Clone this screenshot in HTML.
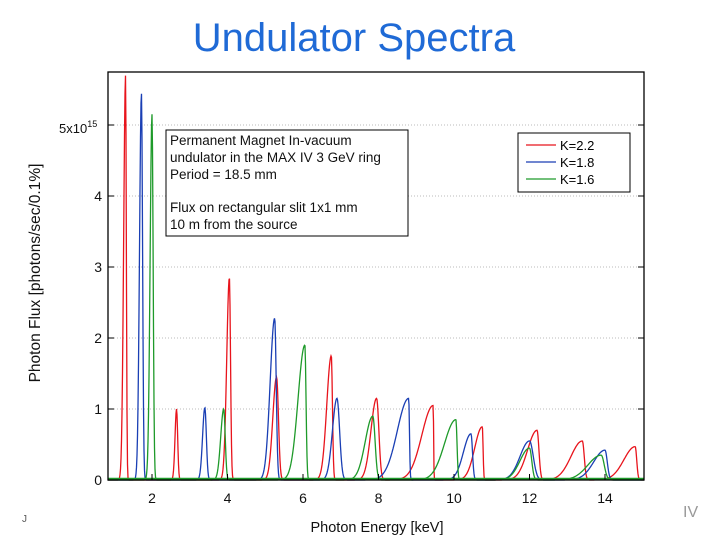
<!DOCTYPE html>
<html><head><meta charset="utf-8"><style>
body{margin:0;background:#fff;width:720px;height:540px;overflow:hidden;font-family:"Liberation Sans",sans-serif}
</style></head><body>
<svg width="720" height="540" xmlns="http://www.w3.org/2000/svg">
<text x="354" y="51" text-anchor="middle" font-size="40" fill="#1f6ad6" font-family="Liberation Sans, sans-serif">Undulator Spectra</text>
<g id="grid"></g>
<g id="series"></g>
<g id="axes"></g>
<text transform="translate(40,273) rotate(-90)" text-anchor="middle" font-size="15.5" fill="#111">Photon Flux [photons/sec/0.1%]</text>
<text x="377" y="532" text-anchor="middle" font-size="14.5" fill="#111">Photon Energy [keV]</text>
<text x="59" y="133" font-size="13" fill="#111">5x10<tspan dy="-6" font-size="9">15</tspan></text>
<g>
<rect x="166" y="130" width="242" height="106" fill="#fff" stroke="#000" stroke-width="1"/>
<text font-size="13.5" fill="#111"><tspan x="170" y="145">Permanent Magnet In-vacuum</tspan><tspan x="170" y="162">undulator in the MAX IV 3 GeV ring</tspan><tspan x="170" y="179">Period = 18.5 mm</tspan><tspan x="170" y="212">Flux on rectangular slit 1x1 mm</tspan><tspan x="170" y="229">10 m from the source</tspan></text>
</g>
<g>
<rect x="518" y="133" width="112" height="59" fill="#fff" stroke="#000"/>
<g><line x1="526" x2="556" y1="145" y2="145" stroke="#e8141c" stroke-width="1.3"/><text x="560" y="150" font-size="13">K=2.2</text></g>
<g><line x1="526" x2="556" y1="162" y2="162" stroke="#1a3fb4" stroke-width="1.3"/><text x="560" y="167" font-size="13">K=1.8</text></g>
<g><line x1="526" x2="556" y1="179" y2="179" stroke="#1e9a2a" stroke-width="1.3"/><text x="560" y="184" font-size="13">K=1.6</text></g>
</g>
<text x="22" y="522" font-size="10" fill="#555">J</text>
<text x="683" y="517" font-size="16" fill="#999">IV</text>
</svg>
<script>
const xTicks=[2,4,6,8,10,12,14];
const yTicks=[0,1,2,3,4];
const seriesNames=["K=2.2","K=1.8","K=1.6"];
// peaks: [centre keV, height (1e15), left width, right width]
const redPeaks=[[1.3,5.7,0.05,0.02],[2.65,1.0,0.04,0.03],[4.05,2.85,0.07,0.03],[5.3,1.45,0.1,0.05],[6.75,1.75,0.12,0.03],[7.95,1.15,0.15,0.06],[9.45,1.05,0.3,0.01],[10.75,0.75,0.2,0.02],[12.2,0.7,0.25,0.05],[13.4,0.55,0.3,0.05],[14.8,0.47,0.3,0.04]];
const bluePeaks=[[1.72,5.45,0.05,0.03],[3.4,1.02,0.06,0.04],[5.25,2.28,0.12,0.04],[6.9,1.15,0.12,0.07],[8.8,1.15,0.3,0.02],[10.45,0.65,0.2,0.04],[12.0,0.55,0.25,0.1],[14.0,0.42,0.3,0.06]];
const greenPeaks=[[2.0,5.15,0.05,0.03],[3.9,1.0,0.08,0.04],[6.05,1.9,0.18,0.03],[7.85,0.9,0.2,0.06],[10.05,0.85,0.3,0.03],[12.0,0.45,0.25,0.06],[13.9,0.35,0.35,0.08]];
const colors=["#e8141c","#1a3fb4","#1e9a2a"];
const X0=108,X1=644,Y0=480,YT=72;
const xs=v=>76.5+v*37.75, ys=v=>480-v*71;
const NS="http://www.w3.org/2000/svg";
function mk(t,a,p){const e=document.createElementNS(NS,t);for(const k in a)e.setAttribute(k,a[k]);p.appendChild(e);return e;}
const grid=document.getElementById('grid'),axes=document.getElementById('axes'),ser=document.getElementById('series');
[1,2,3,4,5].forEach(v=>{const l=mk('line',{x1:X0,x2:X1,y1:ys(v),y2:ys(v),stroke:'#bbb','stroke-dasharray':'1,2'},grid);

});
function curve(peaks){let pts=[];for(let px=X0;px<=X1;px+=0.5){const e=(px-76.5)/37.75;let y=0;peaks.forEach(p=>{const w=e<p[0]?p[2]:p[3];const d=(e-p[0])/w;y=Math.max(y,p[1]*Math.exp(-d*d/2));});pts.push(px.toFixed(1)+','+ys(y).toFixed(1));}return pts.join(' ');}
[redPeaks,bluePeaks,greenPeaks].forEach((pk,i)=>{const p=mk('polyline',{points:curve(pk),fill:'none',stroke:colors[i],'stroke-width':1.3},ser);

});
mk('line',{x1:X0,x2:X1,y1:Y0-1,y2:Y0-1,stroke:'#1e9a2a','stroke-width':2.5},ser);
mk('rect',{x:X0,y:YT,width:X1-X0,height:Y0-YT,fill:'none',stroke:'#000','stroke-width':1.3},axes);
xTicks.forEach(v=>{mk('line',{x1:xs(v),x2:xs(v),y1:Y0,y2:Y0-6,stroke:'#000'},axes);
const t=mk('text',{x:xs(v),y:503,'text-anchor':'middle','font-size':14,fill:'#111'},axes);t.textContent=v;

});
yTicks.forEach(v=>{mk('line',{x1:X0,x2:X0+6,y1:ys(v),y2:ys(v),stroke:'#000'},axes);mk('line',{x1:X1,x2:X1-6,y1:ys(v),y2:ys(v),stroke:'#000'},axes);
const t=mk('text',{x:102,y:ys(v)+5,'text-anchor':'end','font-size':14,fill:'#111'},axes);t.textContent=v;

});
mk('line',{x1:X0,x2:X0+6,y1:ys(5),y2:ys(5),stroke:'#000'},axes);mk('line',{x1:X1,x2:X1-6,y1:ys(5),y2:ys(5),stroke:'#000'},axes);
</script>
</body></html>
